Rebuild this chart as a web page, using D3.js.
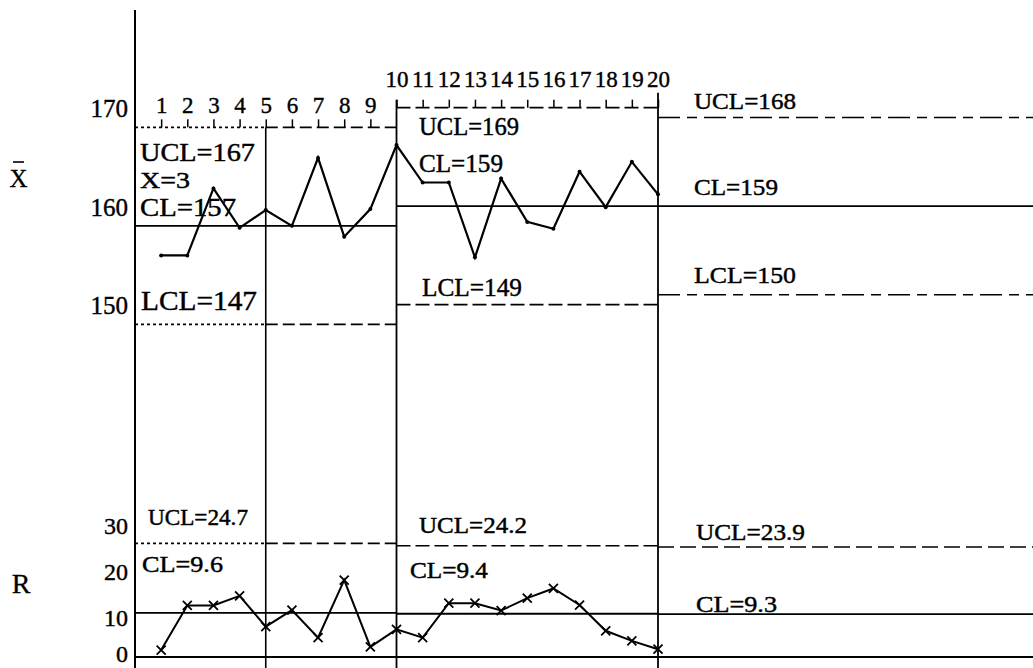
<!DOCTYPE html>
<html><head><meta charset="utf-8">
<script src="https://cdn.jsdelivr.net/npm/d3@7"></script>
<style>body{margin:0;background:#fff}svg{display:block}</style>
</head><body><svg id="c" width="1033" height="668"></svg>
<script>
// ---- data ----
const samples = [1,2,3,4,5,6,7,8,9,10,11,12,13,14,15,16,17,18,19,20];
const xbarValues = [154.0,154.0,160.8,156.8,158.6,157.0,163.9,155.9,158.7,165.2,
                    161.4,161.4,153.8,161.8,157.4,156.7,162.5,158.9,163.5,160.2];
const rangeValues = [1.5,11.2,11.2,13.3,6.6,10.2,4.2,16.7,2.2,6.0,
                     4.2,11.7,11.7,10.1,12.8,14.9,11.3,5.7,3.5,1.7];
const xbarTicks = [150,160,170];
const rTicks = [0,10,20,30];
const segStart = [0,10,20];
const xbarUCL = [167,169,168];
const xbarCL  = [157,159,159];
const xbarLCL = [147,149,150];
const rUCL = [24.7,24.2,23.9];
const rCL  = [9.6,9.4,9.3];
const subgroupLabel = "X=3";

// ---- layout ----
const svg = d3.select("#c");
const FONT = "'Liberation Serif', 'Times New Roman', serif";
const x  = d3.scaleLinear().domain([0,34.34]).range([135,1033]);
const yX = d3.scaleLinear().domain([150,170]).range([294.8,97.8]);
const yR = d3.scaleLinear().domain([0,30]).range([657,519]);
const xEnd = x.domain()[1];

function hline(a,b,y,dash,w){
  svg.append("line").attr("x1",x(a)).attr("x2",x(b)).attr("y1",y).attr("y2",y)
    .attr("stroke","#000").attr("stroke-width",w||1.6)
    .attr("stroke-dasharray",dash||null);
}
function vline(s,y1,y2,w){
  svg.append("line").attr("x1",x(s)).attr("x2",x(s)).attr("y1",y1).attr("y2",y2)
    .attr("stroke","#000").attr("stroke-width",w||1.8);
}

// vertical frame lines
vline(0,10,668,2);
vline(5,yX(xbarUCL[0]),668,1.6);
vline(10,yX(xbarUCL[1])-8,668,1.8);
vline(20,yX(xbarUCL[1])-15,668,1.8);

// X-bar control limits
const dot="3,3", dash1="12,5", dash2="14,5", dashdot="22,7,10,7";
hline(0,5,yX(xbarUCL[0]),dot); hline(5,10,yX(xbarUCL[0]),dash1);
hline(0,10,yX(xbarCL[0]),null,1.8);
hline(0,5,yX(xbarLCL[0]),dot); hline(5,10,yX(xbarLCL[0]),dash1);
hline(10,20,yX(xbarUCL[1]),dash2);
hline(10,20,yX(xbarCL[1]),null,1.8);
hline(10,20,yX(xbarLCL[1]),dash2);
hline(20,xEnd,yX(xbarUCL[2]),dashdot);
hline(20,xEnd,yX(xbarCL[2]),null,1.8);
hline(20,xEnd,yX(xbarLCL[2]),dashdot);

// R control limits
hline(0,5,yR(rUCL[0]),dot); hline(5,10,yR(rUCL[0]),dash1);
hline(0,10,yR(rCL[0]),null,1.8);
hline(10,20,yR(rUCL[1]),dash2);
hline(10,20,yR(rCL[1]),null,1.8);
hline(20,xEnd,yR(rUCL[2]),"16,6");
hline(20,xEnd,yR(rCL[2]),null,1.8);
hline(0,xEnd,yR(0),null,2);

// sample number axes (ticks on the UCL lines)
function sampleAxis(vals,yy,pad){
  const g = svg.append("g").attr("transform",`translate(0,${yy})`)
    .call(d3.axisTop(x).tickValues(vals).tickSize(8).tickPadding(pad).tickFormat(d3.format("d")));
  g.select(".domain").remove();
  g.attr("font-family",FONT).attr("font-size",23);
  g.selectAll("line").attr("stroke-width",1.5);
  g.selectAll("text").attr("fill","#000").attr("stroke","#000").attr("stroke-width",0.4);
}
sampleAxis(samples.slice(0,9), yX(xbarUCL[0]), 6);
sampleAxis(samples.slice(9,20), yX(xbarUCL[1]), 12.6);

// value axes (labels only)
function valueAxis(scale,vals,fs,dyf){
  const g = svg.append("g").attr("transform",`translate(${x(0)},0)`)
    .call(d3.axisLeft(scale).tickValues(vals).tickSize(0).tickPadding(7));
  g.select(".domain").remove();
  g.attr("font-family",FONT).attr("font-size",fs);
  g.selectAll("text").attr("dy",dyf).attr("fill","#000").attr("stroke","#000").attr("stroke-width",0.4);
}
valueAxis(yX,xbarTicks,25,()=> "0.76em");
valueAxis(yR,rTicks,24,d=> d===0 ? "0.2em" : "0.62em");

// X-bar series
const lineX = d3.line().x((d,i)=>x(samples[i])).y(d=>yX(d));
svg.append("path").datum(xbarValues).attr("d",lineX)
  .attr("fill","none").attr("stroke","#000").attr("stroke-width",2.2).attr("stroke-linejoin","miter");
svg.selectAll("circle.xb").data(xbarValues).join("circle").attr("class","xb")
  .attr("cx",(d,i)=>x(samples[i])).attr("cy",d=>yX(d)).attr("r",2).attr("fill","#000");

// R series
const lineR = d3.line().x((d,i)=>x(samples[i])).y(d=>yR(d));
svg.append("path").datum(rangeValues).attr("d",lineR)
  .attr("fill","none").attr("stroke","#000").attr("stroke-width",2);
svg.selectAll("path.rx").data(rangeValues).join("path").attr("class","rx")
  .attr("transform",(d,i)=>`translate(${x(samples[i])},${yR(d)})`)
  .attr("d","M-4.5,-4.5L4.5,4.5M-4.5,4.5L4.5,-4.5")
  .attr("stroke","#000").attr("stroke-width",1.8).attr("fill","none");

// annotations
const annot = [
  {t:`UCL=${xbarUCL[0]}`, s:0, dx:5,  y:yX(xbarUCL[0])+33.6, fs:26, w:115},
  {t:subgroupLabel,       s:0, dx:5,  y:yX(xbarUCL[0])+60.6, fs:24, w:50},
  {t:`CL=${xbarCL[0]}`,   s:0, dx:5,  y:yX(xbarCL[0])-10,    fs:26, w:96},
  {t:`LCL=${xbarLCL[0]}`, s:0, dx:6,  y:yX(xbarLCL[0])-14,   fs:28, w:116},
  {t:`UCL=${xbarUCL[1]}`, s:1, dx:22.5,y:yX(xbarUCL[1])+27.4, fs:25, w:100},
  {t:`CL=${xbarCL[1]}`,   s:1, dx:22.5,y:yX(xbarCL[1])-34,    fs:25, w:84},
  {t:`LCL=${xbarLCL[1]}`, s:1, dx:25.5,y:yX(xbarLCL[1])-8.6,  fs:25, w:100},
  {t:`UCL=${xbarUCL[2]}`, s:2, dx:36, y:yX(xbarUCL[2])-8.5,  fs:24, w:102},
  {t:`CL=${xbarCL[2]}`,   s:2, dx:36, y:yX(xbarCL[2])-11,    fs:24, w:84},
  {t:`LCL=${xbarLCL[2]}`, s:2, dx:36, y:yX(xbarLCL[2])-12,   fs:24, w:102},
  {t:`UCL=${rUCL[0]}`,    s:0, dx:13, y:yR(rUCL[0])-18,      fs:23, w:100},
  {t:`CL=${rCL[0]}`,      s:0, dx:7,  y:yR(rCL[0])-41,       fs:23, w:81},
  {t:`UCL=${rUCL[1]}`,    s:1, dx:22.5,y:yR(rUCL[1])-13,     fs:23, w:108},
  {t:`CL=${rCL[1]}`,      s:1, dx:13.5,y:yR(rCL[1])-36,      fs:23, w:78},
  {t:`UCL=${rUCL[2]}`,    s:2, dx:38, y:yR(rUCL[2])-7,       fs:23, w:109},
  {t:`CL=${rCL[2]}`,      s:2, dx:38, y:yR(rCL[2])-2,        fs:23, w:81}
];
svg.selectAll("text.an").data(annot).join("text").attr("class","an")
  .attr("x",d=>x(segStart[d.s])+d.dx).attr("y",d=>d.y)
  .attr("font-family",FONT).attr("font-size",d=>d.fs)
  .attr("textLength",d=>d.w).attr("lengthAdjust","spacingAndGlyphs")
  .attr("stroke","#000").attr("stroke-width",0.45)
  .text(d=>d.t);

// chart titles
svg.append("text").attr("x",18.5).attr("y",187).attr("text-anchor","middle")
  .attr("font-family",FONT).attr("font-size",25).attr("stroke","#000").attr("stroke-width",0.3).text("X");
svg.append("line").attr("x1",13).attr("x2",24).attr("y1",162).attr("y2",162)
  .attr("stroke","#000").attr("stroke-width",1.6);
svg.append("text").attr("x",21).attr("y",593).attr("text-anchor","middle")
  .attr("font-family",FONT).attr("font-size",28).attr("stroke","#000").attr("stroke-width",0.3).text("R");
</script></body></html>
